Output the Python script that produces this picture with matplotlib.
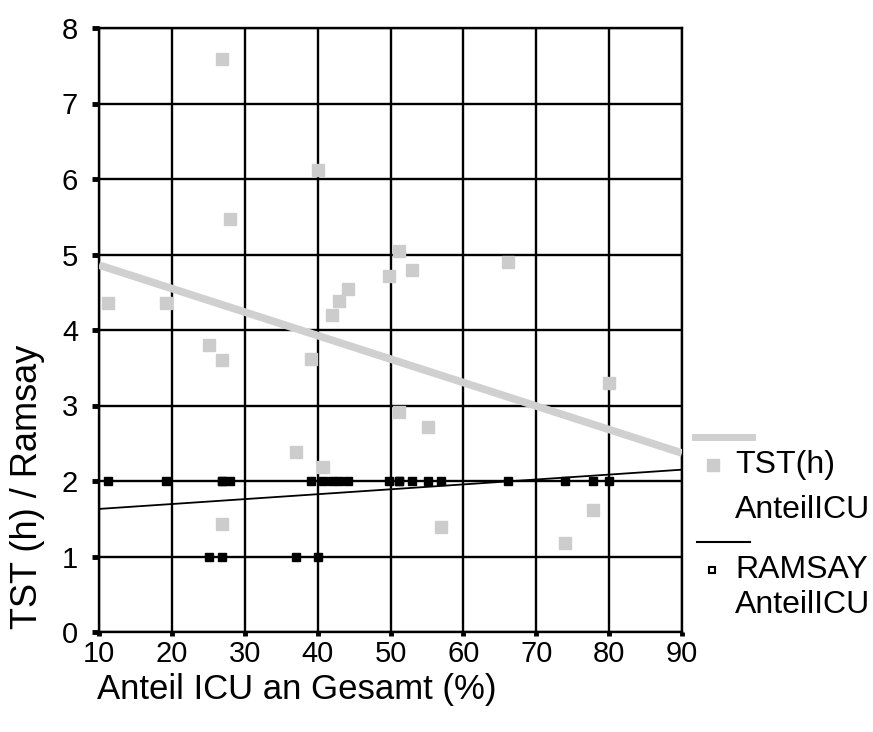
import numpy as np
import matplotlib
matplotlib.use('Agg')
import matplotlib.pyplot as plt
from matplotlib.lines import Line2D

plt.rcParams['font.family'] = ['Liberation Sans', 'DejaVu Sans']

# share of ICU (%) per case, TST in hours, Ramsay score
anteil_icu = [11.2, 19.2, 25.1, 26.9, 26.9, 26.9, 28.0, 37.1, 39.1, 40.0, 40.7, 42.0,
              42.9, 44.1, 49.8, 51.2, 51.2, 52.9, 55.1, 56.9, 66.1, 73.9, 77.8, 80.0]
tst_h = [4.36, 4.36, 3.80, 7.59, 3.60, 1.43, 5.47, 2.39, 3.62, 6.12, 2.18, 4.20,
         4.39, 4.54, 4.72, 5.04, 2.91, 4.79, 2.71, 1.39, 4.90, 1.18, 1.61, 3.30]
ramsay = [2, 2, 1, 2, 2, 1, 2, 1, 2, 1, 2, 2,
          2, 2, 2, 2, 2, 2, 2, 2, 2, 2, 2, 2]

# linear trend lines
trend_x = [10, 90]
tst_trend = [4.86, 2.37]
ramsay_trend = [1.63, 2.15]

xticks = [10, 20, 30, 40, 50, 60, 70, 80, 90]
yticks = [0, 1, 2, 3, 4, 5, 6, 7, 8]

gray = '#cccccc'

fig = plt.figure(figsize=(8.73, 7.32), dpi=100)
ax = fig.add_axes([99 / 873., 1 - 632 / 732., (682 - 99) / 873., (632 - 28) / 732.])

ax.plot(trend_x, tst_trend, '-', color='#d0d0d0', lw=5.5, zorder=3, solid_capstyle='butt')
ax.plot(anteil_icu, tst_h, 's', color=gray, mec=gray, ms=9, zorder=4)
ax.plot(trend_x, ramsay_trend, '-', color='k', lw=1.3, zorder=5)
ax.plot(anteil_icu, ramsay, 's', color='k', ms=5.5, zorder=6)

ax.set_xlim(10, 90)
ax.set_ylim(0, 8)
ax.set_xticks(xticks)
ax.set_yticks(yticks)
ax.grid(True, color='k', lw=1.7, zorder=1)
ax.set_axisbelow(True)
for s in ax.spines.values():
    s.set_linewidth(1.7)

ax.tick_params(axis='y', direction='out', length=5, width=3.5, pad=10, labelsize=21)
ax.tick_params(axis='x', direction='out', length=3, width=3.5, pad=3, labelsize=21)

fig.text(97 / 873., 1 - 690 / 732., 'Anteil ICU an Gesamt (%)', fontsize=25,
         ha='left', va='center')
fig.text(28 / 873., 1 - 487 / 732., 'TST (h) / Ramsay', fontsize=26,
         rotation=90, ha='center', va='center')

# legend, cut off at the right edge like the original
fig.add_artist(Line2D([695 / 873., 752 / 873.], [1 - 437 / 732.] * 2, color='#d0d0d0',
                      lw=5, transform=fig.transFigure))
fig.add_artist(Line2D([713 / 873.], [1 - 465 / 732.], marker='s', color=gray, mec=gray,
                      ms=8, transform=fig.transFigure))
fig.add_artist(Line2D([697 / 873., 750 / 873.], [1 - 542 / 732.] * 2, color='k',
                      lw=1.5, transform=fig.transFigure))
fig.add_artist(Line2D([712 / 873.], [1 - 570 / 732.], marker='s', color='w', mec='k',
                      mew=1.5, ms=5, transform=fig.transFigure))
fig.text(735 / 873., 1 - 465 / 732., 'TST(h)', fontsize=23, ha='left', va='center')
fig.text(735 / 873., 1 - 510 / 732., 'AnteilICU', fontsize=23, ha='left', va='center')
fig.text(735 / 873., 1 - 570 / 732., 'RAMSAY', fontsize=23, ha='left', va='center')
fig.text(735 / 873., 1 - 605 / 732., 'AnteilICU', fontsize=23, ha='left', va='center')

fig.savefig('out.png', dpi=100)
